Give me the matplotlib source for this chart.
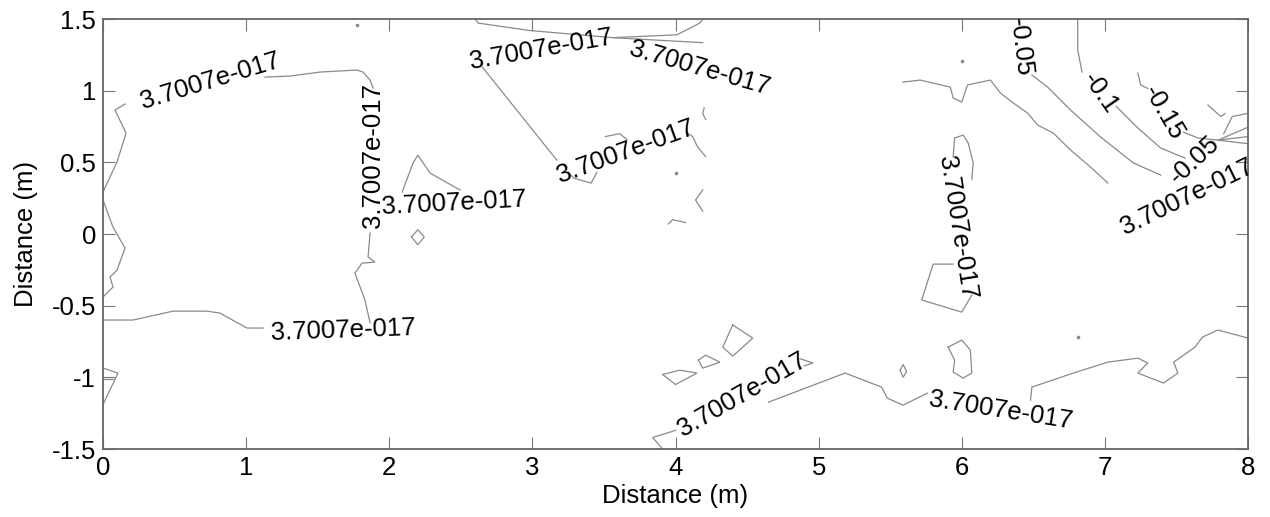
import matplotlib
matplotlib.use("Agg")
import matplotlib.pyplot as plt

plt.rcParams['font.family'] = ['Liberation Sans', 'DejaVu Sans']

# contour paths, (distance x, distance y) in metres
left_edge = [(0.154, 0.907), (0.084, 0.865), (0.161, 0.704), (0.098, 0.502), (0.0, 0.293),
             (0.0, 0.237), (0.07, 0.048), (0.154, -0.098), (0.098, -0.252), (0.049, -0.30),
             (0.07, -0.37), (0.0, -0.44)]
top_left = [(1.132, 1.095), (1.307, 1.102), (1.516, 1.13), (1.775, 1.144), (1.817, 1.13),
            (1.866, 1.074), (1.887, 1.018)]
left_vert = [(1.866, 0.007), (1.852, -0.16), (1.90, -0.196), (1.81, -0.203), (1.76, -0.272),
             (1.83, -0.46), (1.866, -0.62)]
bottom_left = [(0.0, -0.60), (0.21, -0.60), (0.49, -0.538), (0.727, -0.538), (0.818, -0.552),
               (1.006, -0.656), (1.118, -0.656)]
bump = [(2.09, 0.293), (2.166, 0.495), (2.20, 0.55), (2.285, 0.425), (2.495, 0.307)]
diamond = [(2.155, -0.02), (2.20, 0.03), (2.245, -0.02), (2.20, -0.075), (2.155, -0.02)]
top_arc = [(2.60, 1.5), (2.62, 1.472), (2.98, 1.42), (3.56, 1.37), (4.01, 1.39),
           (4.17, 1.472), (4.19, 1.5)]
top_arc2 = [(3.56, 1.37), (4.19, 1.335)]
diagonal = [(2.65, 1.165), (3.17, 0.516)]
under_lbl = [(3.25, 0.43), (3.29, 0.39), (3.41, 0.355), (3.45, 0.43)]
over_lbl = [(3.51, 0.68), (3.61, 0.70), (3.66, 0.66)]
bit1 = [(4.20, 0.88), (4.19, 0.84), (4.21, 0.80)]
bit2 = [(4.09, 0.70), (4.12, 0.68), (4.15, 0.615), (4.21, 0.54)]
bit3 = [(4.19, 0.307), (4.14, 0.237), (4.19, 0.16)]
bit4 = [(3.95, 0.07), (3.98, 0.10), (4.07, 0.08)]
quad1 = [(4.40, -0.635), (4.54, -0.726), (4.40, -0.852), (4.33, -0.789), (4.40, -0.635)]
quad2 = [(4.16, -0.88), (4.21, -0.845), (4.31, -0.894), (4.19, -0.936), (4.16, -0.88)]
quad3 = [(3.91, -0.98), (4.03, -0.95), (4.15, -0.97), (4.0, -1.05), (3.91, -0.98)]
bottom_mid = [(3.91, -1.5), (3.84, -1.42), (4.0, -1.37)]
bottom_run = [(4.65, -1.173), (5.185, -0.97), (5.44, -1.068), (5.48, -1.145), (5.59, -1.194),
              (5.76, -1.11)]
bottom_right = [(6.48, -1.159), (6.49, -1.068), (6.78, -0.97), (7.02, -0.894), (7.23, -0.866),
                (7.30, -0.90), (7.23, -0.97), (7.41, -1.04), (7.51, -0.97), (7.48, -0.894),
                (7.63, -0.789), (7.68, -0.72), (7.79, -0.67), (8.0, -0.726)]
tri = [(4.87, -0.87), (4.96, -0.90), (4.90, -0.92)]
small_dia = [(5.57, -0.95), (5.59, -0.91), (5.615, -0.96), (5.59, -1.0), (5.57, -0.95)]
blob = [(5.905, -0.789), (6.0, -0.74), (6.06, -0.81), (6.07, -0.97), (6.01, -1.005),
        (5.94, -0.963), (5.95, -0.88), (5.905, -0.789)]
wedge = [(0.0, -0.935), (0.105, -0.97), (0.0, -1.19)]
wedge_bar = [(0.0, -1.01), (0.07, -1.01)]
mid_top = [(5.94, 0.537), (5.95, 0.67), (6.01, 0.69), (6.045, 0.635), (6.08, 0.495),
           (6.07, 0.38)]
mid_box = [(6.07, -0.426), (6.0, -0.545), (5.72, -0.46), (5.80, -0.21), (5.94, -0.21)]
ridge = [(5.59, 1.06), (5.71, 1.074), (5.92, 1.025), (5.94, 0.949), (6.00, 0.921),
         (6.04, 1.04), (6.20, 1.074), (6.27, 0.984), (6.36, 0.914), (6.46, 0.844),
         (6.53, 0.76), (6.64, 0.704), (6.76, 0.586), (6.90, 0.467), (7.02, 0.356)]
m005_top = [(6.40, 1.5), (6.40, 1.47)]
m005 = [(6.49, 1.109), (6.60, 1.025), (6.76, 0.865), (6.97, 0.677), (7.20, 0.495),
        (7.39, 0.411)]
m01_top = [(6.81, 1.5), (6.81, 1.284), (6.84, 1.13)]
m01 = [(7.08, 0.89), (7.23, 0.74), (7.39, 0.60), (7.51, 0.55), (7.56, 0.53)]
m015_top = [(7.23, 1.123), (7.25, 1.04), (7.30, 1.015)]
m015 = [(7.55, 0.71), (7.65, 0.67), (7.79, 0.655), (8.0, 0.745)]
fan1 = [(7.79, 0.655), (8.0, 0.68)]
fan2 = [(7.79, 0.655), (8.0, 0.63)]
fan3 = [(7.83, 0.70), (7.89, 0.82), (7.99, 0.84)]
fan4 = [(7.72, 0.90), (7.81, 0.82), (7.84, 0.84)]
dots_x = [1.775, 4.0, 6.0, 6.81]
dots_y = [1.458, 0.425, 1.21, -0.72]

label_text = ['3.7007e-017'] * 11 + ['-0.05', '-0.1', '-0.15', '-0.05']
label_x = [0.75, 1.887, 2.45, 1.68, 3.06, 4.17, 3.65, 5.97, 4.465, 6.27, 7.575,
           6.41, 6.97, 7.41, 7.63]
label_y = [1.07, 0.55, 0.216, -0.67, 1.284, 1.158, 0.572, 0.042, -1.124, -1.229, 0.258,
           1.305, 0.984, 0.844, 0.516]
label_rot = [17, 90, 3, 2, 10, -16, 20, -81, 30, -9, 26, -83, -55, -60, 43]

paths = [left_edge, top_left, left_vert, bottom_left, bump, diamond, top_arc, top_arc2,
         diagonal, under_lbl, over_lbl, bit1, bit2, bit3, bit4, quad1, quad2, quad3,
         bottom_mid, bottom_run, bottom_right, tri, small_dia, blob, wedge, wedge_bar,
         mid_top, mid_box, ridge, m005_top, m005, m01_top, m01, m015_top, m015,
         fan1, fan2, fan3, fan4]

fig = plt.figure(figsize=(12.7, 5.17), dpi=100)
ax = fig.add_axes([0.0811, 0.1315, 0.9016, 0.8317])

for p in paths:
    xs = [pt[0] for pt in p]
    ys = [pt[1] for pt in p]
    ax.plot(xs, ys, color='#8a8a8a', lw=0.9, solid_joinstyle='miter')
ax.plot(dots_x, dots_y, ls='none', marker='o', ms=1.6, color='#8a8a8a')

for t, x, y, r in zip(label_text, label_x, label_y, label_rot):
    ax.text(x, y, t, rotation=r, rotation_mode='anchor', ha='center', va='center',
            fontsize=18.5, color='#000000')

ax.set_xlim(0, 8)
ax.set_ylim(-1.5, 1.5)
ax.set_xticks(range(0, 9))
ax.set_yticks([-1.5, -1, -0.5, 0, 0.5, 1, 1.5])
ax.set_yticklabels(['-1.5', '-1', '-0.5', '0', '0.5', '1', '1.5'])
ax.tick_params(direction='in', length=8.5, width=0.8, color='#777777', top=True, right=True,
               labelsize=18.5, pad=5, labelcolor='#000000')
for s in ax.spines.values():
    s.set_color('#666666')
    s.set_linewidth(1.3)
ax.set_xlabel('Distance (m)', fontsize=18.5, labelpad=3, color='#000000')
ax.set_ylabel('Distance (m)', fontsize=18.5, labelpad=10, color='#000000')

fig.savefig('out.png', dpi=100)
